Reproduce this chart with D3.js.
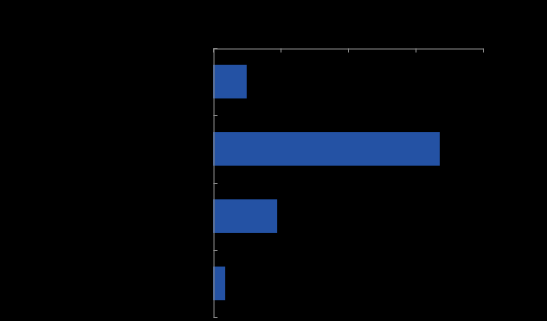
<!DOCTYPE html>
<html>
<head>
<meta charset="UTF-8">
<script src="https://d3js.org/d3.v7.min.js"></script>
<style>
  body { margin: 0; background: #000; }
  svg { display: block; }
</style>
</head>
<body>
<svg id="chart" width="547" height="321"></svg>
<script>
// data (labels are drawn in black on black)
const categories = ["A", "B", "C", "D"];
const values = [0.5, 3.36, 0.95, 0.18];
const xTicks = [0, 1, 2, 3, 4];

const W = 547, H = 321;
const margin = { top: 48, right: 64, bottom: 4, left: 213 };

const svg = d3.select("#chart");
svg.append("rect").attr("width", W).attr("height", H).attr("fill", "#000");

const x = d3.scaleLinear()
  .domain([0, 4])
  .range([margin.left, W - margin.right]);

const y = d3.scaleBand()
  .domain(categories)
  .range([margin.top, H - margin.bottom])
  .paddingInner(0.5)
  .paddingOuter(0.25);

// bars
svg.selectAll("rect.bar")
  .data(values)
  .join("rect")
  .attr("class", "bar")
  .attr("x", x(0))
  .attr("y", (d, i) => y(categories[i]))
  .attr("width", d => x(d) - x(0))
  .attr("height", y.bandwidth())
  .attr("fill", "#2452a4");

// top value axis, ticks pointing down into the plot
const xAxis = svg.append("g")
  .attr("transform", `translate(0,${margin.top + 0.5})`)
  .call(d3.axisTop(x).tickValues(xTicks).tickSizeInner(-4).tickSizeOuter(0).tickPadding(8));

// left category axis, ticks at band boundaries pointing right
const yAxis = svg.append("g")
  .attr("transform", `translate(${margin.left + 0.5},0)`)
  .call(d3.axisLeft(y).tickSize(0).tickPadding(8));

const step = y.step();
const bounds = d3.range(categories.length + 1).map(i => margin.top + (H - margin.bottom - margin.top) * i / categories.length);
yAxis.selectAll("line.bound")
  .data(bounds)
  .join("line")
  .attr("class", "bound")
  .attr("x1", 0).attr("x2", 4)
  .attr("y1", d => Math.round(d) + 0.5).attr("y2", d => Math.round(d) + 0.5);

svg.selectAll(".domain, line").attr("stroke", "#888").attr("stroke-width", 1);
svg.selectAll("text").attr("fill", "#000").style("font-family", "Liberation Sans, Arial, sans-serif").style("font-size", "11px");
</script>
</body>
</html>
